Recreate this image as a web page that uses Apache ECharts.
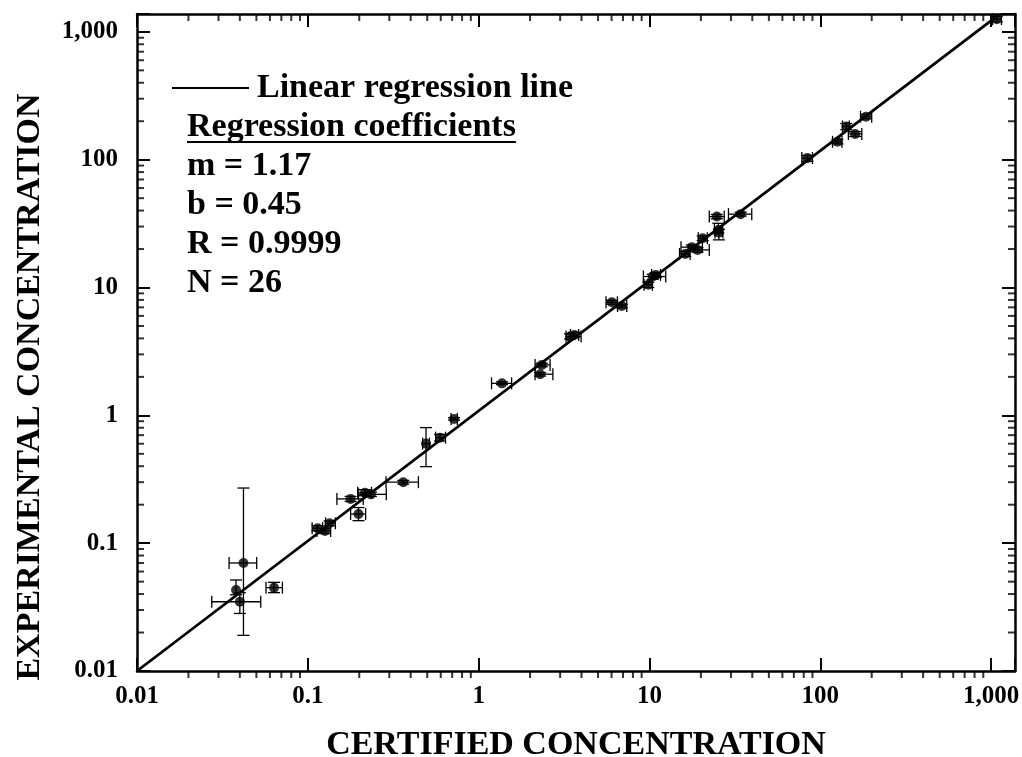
<!DOCTYPE html>
<html>
<head>
<meta charset="utf-8">
<script src="https://cdn.jsdelivr.net/npm/echarts@6/dist/echarts.min.js"></script>
<style>
html,body{margin:0;padding:0;background:#fff;}
#chart{width:1022px;height:757px;}
</style>
</head>
<body>
<div id="chart"></div>
<script>
// ---- data ----
const certified    = [0.042,0.038,0.040,0.0634,0.114,0.126,0.134,0.178,0.198,0.216,0.234,0.362,0.492,0.594,0.718,1.37,2.34,2.29,3.43,3.63,6.02,6.89,9.85,10.45,10.9,16.2,17.7,19.1,20.5,24.8,25.3,25.5,34.2,84.0,126,142,160,185,1080];
const experimental = [0.070,0.043,0.0348,0.0449,0.131,0.1246,0.143,0.222,0.169,0.248,0.241,0.300,0.601,0.669,0.937,1.78,2.48,2.10,4.13,4.26,7.67,7.18,10.5,12.2,12.55,18.3,20.7,19.7,24.3,35.9,28.2,26.9,37.5,103,138,182,159,217,1257];
const certLow      = [0.0346,0.038,0.0274,0.0569,0.106,0.113,0.127,0.148,0.178,0.196,0.198,0.287,0.470,0.560,0.690,1.19,2.14,2.14,3.25,3.45,5.57,6.50,9.30,9.21,10.3,15.0,15.3,17.0,19.3,22.4,24.0,24.2,29.0,78,118,135,146,172,1020];
const certHigh     = [0.0502,0.038,0.053,0.071,0.122,0.136,0.145,0.211,0.218,0.236,0.288,0.444,0.515,0.640,0.750,1.56,2.62,2.72,3.98,3.85,6.49,7.36,10.4,12.45,11.6,17.3,20.4,22.4,21.8,27.4,26.7,26.9,39.7,90,134,148,175,200,1150];
const expLow       = [0.019,0.0395,0.0282,0.041,0.125,0.119,0.137,0.212,0.150,0.235,0.232,0.290,0.397,0.630,0.920,1.74,2.40,2.03,3.95,4.10,7.40,6.95,10.0,11.6,12.0,17.5,19.8,18.9,23.3,34.5,26.8,23.6,36.2,97,133,172,152,209,1200];
const expHigh      = [0.27,0.0515,0.041,0.0494,0.137,0.130,0.149,0.232,0.190,0.262,0.251,0.310,0.802,0.710,0.960,1.83,2.56,2.16,4.35,4.45,7.95,7.40,11.0,12.7,13.1,19.2,21.5,20.5,25.3,37.3,31.8,28.5,38.8,108,144,192,166,226,1320];

const regressionLine = [[0.01, 0.01], [1060, 1300]];

const tickValues = [0.01, 0.1, 1, 10, 100, 1000];
const tickLabels = ['0.01', '0.1', '1', '10', '100', '1,000'];
const minorMultipliers = [2, 3, 4, 5, 6, 7, 8, 9];
const axisMin = 0.01;
const axisMax = 1380;

const legendTitle = 'Linear regression line';
const coefLines = ['Regression coefficients', 'm = 1.17', 'b = 0.45', 'R = 0.9999', 'N = 26'];
const xTitle = 'CERTIFIED CONCENTRATION';
const yTitle = 'EXPERIMENTAL CONCENTRATION';

// ---- build ----
const FONT = '"Liberation Serif", "Times New Roman", serif';
const BIG = 'bold 34px ' + FONT;

function tickLabel(v) {
  for (let i = 0; i < tickValues.length; i++) {
    if (Math.abs(Math.log10(v) - Math.log10(tickValues[i])) < 1e-6) return tickLabels[i];
  }
  return '';
}

function textWidth(txt, font) {
  const c = document.createElement('canvas').getContext('2d');
  c.font = font;
  return c.measureText(txt).width;
}

const minorVals = [];
tickValues.forEach(function (d) {
  minorMultipliers.forEach(function (m) {
    const v = +(d * m).toPrecision(6);
    if (v < axisMax) minorVals.push(v);
  });
});

const errData = certified.map(function (x, i) {
  return [x, experimental[i], certLow[i], certHigh[i], expLow[i], expHigh[i]];
});
const pointData = certified.map(function (x, i) { return [x, experimental[i]]; });

function axisCommon(extra) {
  return Object.assign({
    type: 'log',
    logBase: 10,
    min: axisMin,
    max: axisMax,
    splitLine: { show: false },
    axisLine: { show: true, lineStyle: { color: '#000', width: 2.5 } },
    axisTick: { show: true, inside: true, length: 13, lineStyle: { color: '#000', width: 2 } },
    minorTick: { show: false }
  }, extra);
}

const tickSeriesBase = {
  type: 'scatter',
  symbol: 'rect',
  silent: true,
  clip: false,
  z: 5,
  itemStyle: { color: '#000' },
  emphasis: { disabled: true }
};

const coefX = 187;
const underlineW = textWidth(coefLines[0], BIG);

const option = {
  animation: false,
  backgroundColor: '#fff',
  grid: { left: 137, right: 7, top: 14, bottom: 86, containLabel: false, outerBoundsMode: 'none' },
  xAxis: [
    axisCommon({
      position: 'bottom',
      axisLabel: { show: true, margin: 13, color: '#000', fontFamily: FONT, fontWeight: 'bold', fontSize: 25, formatter: tickLabel },
      name: xTitle,
      nameLocation: 'middle',
      nameGap: 57,
      nameTextStyle: { color: '#000', fontFamily: FONT, fontWeight: 'bold', fontSize: 34 }
    }),
    axisCommon({ position: 'top', axisLabel: { show: false } })
  ],
  yAxis: [
    axisCommon({
      position: 'left',
      axisLabel: { show: true, margin: 19, color: '#000', fontFamily: FONT, fontWeight: 'bold', fontSize: 25, formatter: tickLabel }
    }),
    axisCommon({ position: 'right', axisLabel: { show: false } })
  ],
  series: [
    {
      type: 'line',
      data: regressionLine,
      symbol: 'none',
      silent: true,
      lineStyle: { color: '#000', width: 2.8 },
      z: 2
    },
    {
      type: 'custom',
      data: errData,
      encode: { x: 0, y: 1 },
      silent: true,
      clip: false,
      z: 3,
      renderItem: function (params, api) {
        const cx = api.value(0), cy = api.value(1);
        const xl = api.coord([api.value(2), cy]);
        const xh = api.coord([api.value(3), cy]);
        const yl = api.coord([cx, api.value(4)]);
        const yh = api.coord([cx, api.value(5)]);
        const cap = 6;
        const st = { stroke: '#000', lineWidth: 1.3 };
        const ch = [];
        if (xh[0] - xl[0] > 1) {
          ch.push({ type: 'line', shape: { x1: xl[0], y1: xl[1], x2: xh[0], y2: xh[1] }, style: st });
          ch.push({ type: 'line', shape: { x1: xl[0], y1: xl[1] - cap, x2: xl[0], y2: xl[1] + cap }, style: st });
          ch.push({ type: 'line', shape: { x1: xh[0], y1: xh[1] - cap, x2: xh[0], y2: xh[1] + cap }, style: st });
        }
        if (yl[1] - yh[1] > 1) {
          ch.push({ type: 'line', shape: { x1: yl[0], y1: yl[1], x2: yh[0], y2: yh[1] }, style: st });
          ch.push({ type: 'line', shape: { x1: yl[0] - cap, y1: yl[1], x2: yl[0] + cap, y2: yl[1] }, style: st });
          ch.push({ type: 'line', shape: { x1: yh[0] - cap, y1: yh[1], x2: yh[0] + cap, y2: yh[1] }, style: st });
        }
        return { type: 'group', children: ch };
      }
    },
    {
      type: 'scatter',
      data: pointData,
      symbol: 'circle',
      symbolSize: 10,
      itemStyle: { color: '#000' },
      z: 4
    },
    // minor ticks: bottom (outside), top/left/right (inside)
    Object.assign({}, tickSeriesBase, {
      data: minorVals.map(function (v) { return [v, axisMin]; }),
      symbolSize: [2, 7], symbolOffset: [0, 3.5]
    }),
    Object.assign({}, tickSeriesBase, {
      data: minorVals.map(function (v) { return [v, axisMax]; }),
      symbolSize: [2, 7], symbolOffset: [0, 3.5]
    }),
    Object.assign({}, tickSeriesBase, {
      data: minorVals.map(function (v) { return [axisMin, v]; }),
      symbolSize: [7, 2], symbolOffset: [3.5, 0]
    }),
    Object.assign({}, tickSeriesBase, {
      data: minorVals.map(function (v) { return [axisMax, v]; }),
      symbolSize: [7, 2], symbolOffset: [-3.5, 0]
    })
  ],
  graphic: [
    { type: 'line', shape: { x1: 172, y1: 88, x2: 249, y2: 88 }, style: { stroke: '#000', lineWidth: 2 } },
    { type: 'text', x: 257, y: 88, style: { text: legendTitle, font: BIG, fill: '#000', verticalAlign: 'middle', align: 'left' } },
    { type: 'text', x: coefX, y: 127, style: { text: coefLines[0], font: BIG, fill: '#000', verticalAlign: 'middle', align: 'left' } },
    { type: 'line', shape: { x1: coefX, y1: 142, x2: coefX + underlineW, y2: 142 }, style: { stroke: '#000', lineWidth: 2 } },
    { type: 'text', x: coefX, y: 166, style: { text: coefLines[1], font: BIG, fill: '#000', verticalAlign: 'middle', align: 'left' } },
    { type: 'text', x: coefX, y: 205, style: { text: coefLines[2], font: BIG, fill: '#000', verticalAlign: 'middle', align: 'left' } },
    { type: 'text', x: coefX, y: 244, style: { text: coefLines[3], font: BIG, fill: '#000', verticalAlign: 'middle', align: 'left' } },
    { type: 'text', x: coefX, y: 283, style: { text: coefLines[4], font: BIG, fill: '#000', verticalAlign: 'middle', align: 'left' } },
    { type: 'text', x: 30, y: 387, rotation: Math.PI / 2, style: { text: yTitle, font: BIG, fill: '#000', verticalAlign: 'middle', align: 'center' } }
  ]
};

const chart = echarts.init(document.getElementById('chart'), null, { renderer: 'canvas' });
chart.setOption(option);
</script>
</body>
</html>
